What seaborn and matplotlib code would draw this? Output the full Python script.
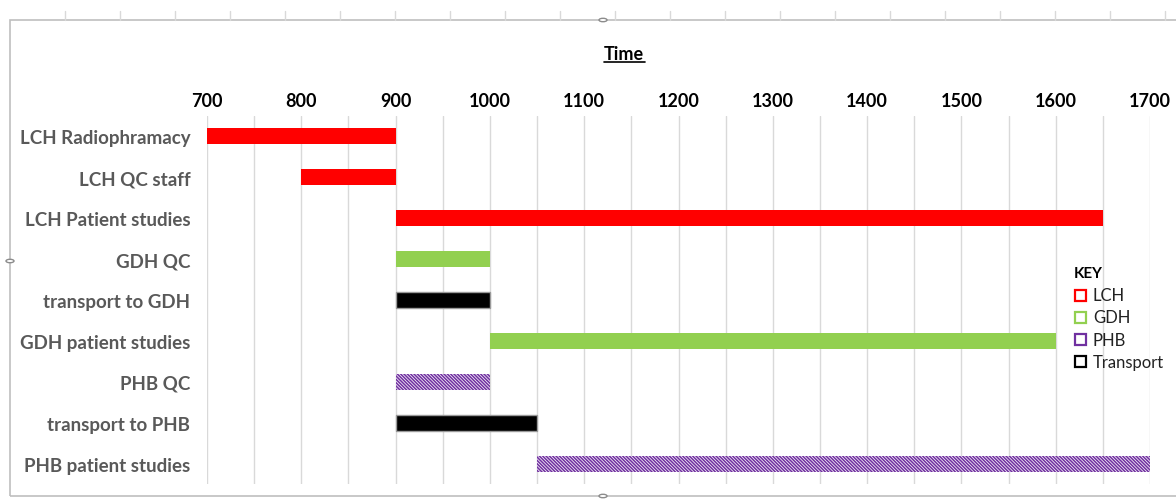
import matplotlib
matplotlib.use("Agg")
import matplotlib.pyplot as plt
from matplotlib.patches import Rectangle, Circle
from matplotlib.lines import Line2D
import numpy as np
import pandas as pd
import seaborn as sns

tasks = ["LCH Radiophramacy", "LCH QC staff", "LCH Patient studies", "GDH QC",
         "transport to GDH", "GDH patient studies", "PHB QC", "transport to PHB",
         "PHB patient studies"]
starts = [700, 800, 900, 900, 900, 1000, 900, 900, 1050]
ends = [900, 900, 1650, 1000, 1000, 1600, 1000, 1050, 1700]
groups = ["LCH", "LCH", "LCH", "GDH", "Transport", "GDH", "PHB", "Transport", "PHB"]
xticks = [700, 800, 900, 1000, 1100, 1200, 1300, 1400, 1500, 1600, 1700]

group_colors = {"LCH": "#FF0000", "GDH": "#92D050", "PHB": "#7030A0", "Transport": "#000000"}
key_order = ["LCH", "GDH", "PHB", "Transport"]

df = pd.DataFrame({"task": tasks, "start": starts, "end": ends, "group": groups})
df["duration"] = df["end"] - df["start"]

sns.set_theme(style="white")
plt.rcParams["font.family"] = ["Lato", "DejaVu Sans"]
plt.rcParams["hatch.linewidth"] = 1.1

fig = plt.figure(figsize=(11.76, 5.02), dpi=100)
ax = fig.add_axes([207 / 1176, 1 - 485 / 502, (1150 - 207) / 1176, (485 - 117) / 502])

sns.barplot(data=df, y="task", x="duration", order=tasks, left=df["start"].values,
            width=0.39, color="#FF0000", linewidth=0, ax=ax, orient="h", errorbar=None)

for patch, grp in zip(ax.patches, df["group"]):
    if grp == "PHB":
        patch.set_facecolor("#f3ecf8")
        patch.set_edgecolor(group_colors["PHB"])
        patch.set_hatch("\\" * 10)
        patch.set_linewidth(0)
    elif grp == "Transport":
        patch.set_facecolor("#000000")
        patch.set_edgecolor("#9a9a9a")
        patch.set_linewidth(1.0)
    else:
        patch.set_facecolor(group_colors[grp])
        patch.set_linewidth(0)

ax.set_xlim(700, 1700)
ax.set_ylim(len(tasks) - 0.5, -0.5)
ax.xaxis.tick_top()
ax.set_xticks(xticks)
ax.set_xticklabels([str(t) for t in xticks], fontsize=13, fontweight="bold", color="black")
ax.set_xticks(np.arange(700, 1701, 50), minor=True)
ax.tick_params(axis="x", which="both", length=0, pad=5)
ax.tick_params(axis="y", length=0, pad=12)
for lbl in ax.get_yticklabels():
    lbl.set_fontsize(13.5)
    lbl.set_fontweight("bold")
    lbl.set_color("#595959")
ax.grid(axis="x", which="both", color="#D9D9D9", linewidth=1.0)
ax.set_axisbelow(True)
ax.set_xlabel("")
ax.set_ylabel("")
for s in ax.spines.values():
    s.set_visible(False)

# Chart title
fig.text(624 / 1176, 1 - 54 / 502, "Time", ha="center", va="center",
         fontsize=13, fontweight="bold", color="black")
fig.add_artist(Line2D([604 / 1176, 645 / 1176], [1 - 63 / 502, 1 - 63 / 502],
                      color="black", linewidth=1.2))

# Key
fig.text(1074 / 1176, 1 - 274 / 502, "KEY", ha="left", va="center",
         fontsize=11, fontweight="bold", color="black")
for i, name in enumerate(key_order):
    yc = 1 - (296 + i * 22.3) / 502
    fig.add_artist(Rectangle((1075 / 1176, yc - 5.5 / 502), 11 / 1176, 11 / 502,
                             facecolor="white", edgecolor=group_colors[name],
                             linewidth=1.6, transform=fig.transFigure))
    fig.text(1093 / 1176, yc, name, ha="left", va="center", fontsize=12, color="#222222")

# Chart border and handles
fig.add_artist(Rectangle((10 / 1176, 1 - 497 / 502), 1200 / 1176, 476 / 502,
                         facecolor="none", edgecolor="#BFBFBF", linewidth=1.2,
                         transform=fig.transFigure))
for (cx, cy) in [(603, 21), (603, 497), (10, 262)]:
    fig.add_artist(Circle((cx / 1176, 1 - cy / 502), 4 / 1176, facecolor="white",
                          edgecolor="#8c8c8c", linewidth=1.0, transform=fig.transFigure))
for gx in range(65, 1176, 55):
    fig.add_artist(Line2D([gx / 1176, gx / 1176], [1 - 12 / 502, 1 - 21 / 502],
                          color="#D9D9D9", linewidth=1.0))

fig.savefig("out.png", dpi=100)
